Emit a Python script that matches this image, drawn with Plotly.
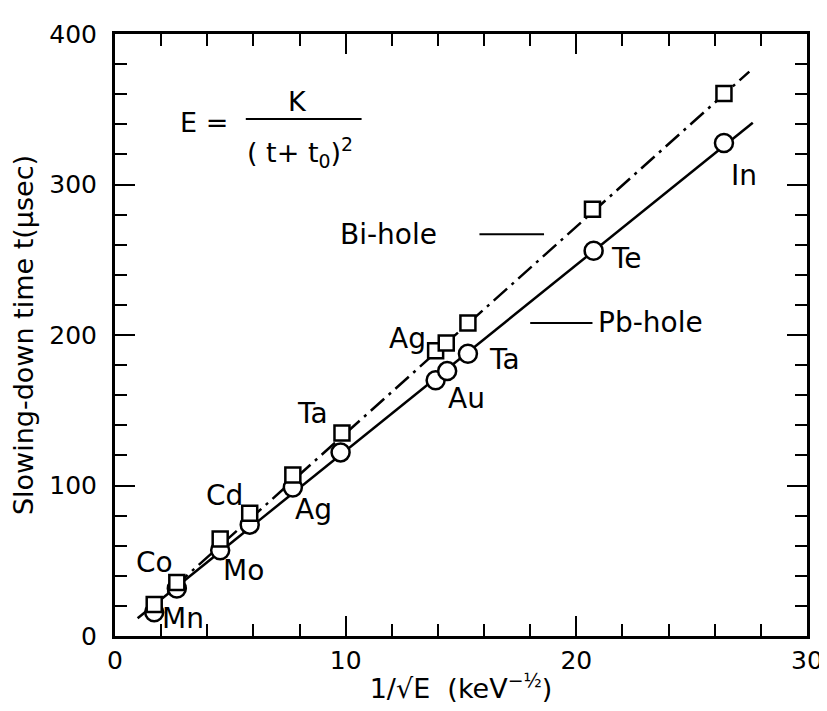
import plotly.graph_objects as go

# Pb-hole (circles)
pb_x = [1.70, 2.68, 4.56, 5.84, 7.71, 9.78, 13.9, 14.4, 15.3, 20.75, 26.4]
pb_y = [15.8, 31.6, 57.0, 74.0, 98.7, 122.0, 170.0, 176.0, 187.5, 256.0, 327.6]
# Bi-hole (squares)
bi_x = [1.70, 2.68, 4.56, 5.84, 7.71, 9.84, 13.9, 14.36, 15.3, 20.7, 26.4]
bi_y = [21.0, 35.5, 64.5, 81.6, 107.0, 134.9, 189.5, 194.7, 208.0, 283.5, 360.5]
# fitted lines
pb_fit_x = [0.98, 27.65]
pb_fit_y = [11.8, 341.0]
bi_fit_x = [1.5, 27.5]
bi_fit_y = [18.0, 375.0]

# element labels
lab_text = ["Co", "Mn", "Mo", "Cd", "Ag", "Ta", "Ag", "Au", "Ta", "Te", "In"]
lab_x = [1.70, 2.94, 5.58, 4.73, 8.61, 8.56, 12.70, 15.25, 16.87, 22.16, 27.27]
lab_y = [48.7, 11.8, 43.4, 93.4, 84.2, 148.0, 198.0, 158.0, 184.0, 250.7, 306.0]

FONT = "DejaVu Sans, Verdana, sans-serif"
BLK = "black"

fig = go.Figure()
fig.add_trace(go.Scatter(x=pb_fit_x, y=pb_fit_y, mode="lines",
                         line=dict(color=BLK, width=2.5), showlegend=False))
fig.add_trace(go.Scatter(x=bi_fit_x, y=bi_fit_y, mode="lines",
                         line=dict(color=BLK, width=2.5, dash="18px,6px,3px,6px"),
                         showlegend=False))
fig.add_trace(go.Scatter(x=pb_x, y=pb_y, mode="markers",
                         marker=dict(symbol="circle", size=18, color="white",
                                     line=dict(color=BLK, width=2.5)),
                         showlegend=False))
fig.add_trace(go.Scatter(x=bi_x, y=bi_y, mode="markers",
                         marker=dict(symbol="square", size=15, color="white",
                                     line=dict(color=BLK, width=2.5)),
                         showlegend=False))

for t, x, y in zip(lab_text, lab_x, lab_y):
    fig.add_annotation(x=x, y=y, text=t, showarrow=False, xref="x", yref="y",
                       font=dict(size=28, color=BLK, family=FONT))

# series labels with leader lines
fig.add_annotation(x=14.05, y=267, text="Bi-hole", showarrow=False, xanchor="right",
                   font=dict(size=28, color=BLK, family=FONT))
fig.add_shape(type="line", x0=15.8, x1=18.6, y0=267, y1=267, line=dict(color=BLK, width=2))
fig.add_annotation(x=20.85, y=208, text="Pb-hole", showarrow=False, xanchor="left",
                   font=dict(size=28, color=BLK, family=FONT))
fig.add_shape(type="line", x0=18.0, x1=20.7, y0=208, y1=208, line=dict(color=BLK, width=2))

# formula
fig.add_annotation(x=3.85, y=341, text="E =", showarrow=False,
                   font=dict(size=27, color=BLK, family=FONT))
fig.add_annotation(x=7.9, y=355, text="K", showarrow=False,
                   font=dict(size=27, color=BLK, family=FONT))
fig.add_shape(type="line", x0=5.67, x1=10.69, y0=343.5, y1=343.5, line=dict(color=BLK, width=2))
fig.add_annotation(x=8.0, y=321, text="( t+ t<sub>0</sub>)<sup>2</sup>", showarrow=False,
                   font=dict(size=27, color=BLK, family=FONT))

axis_common = dict(showline=True, linecolor=BLK, linewidth=3, mirror="allticks",
                   ticks="inside", tickcolor=BLK, tickwidth=2, showgrid=False,
                   zeroline=False, tickfont=dict(size=25, color=BLK, family=FONT))
fig.update_xaxes(range=[0, 30], tickvals=[0, 10, 20, 30], ticklen=20,
                 minor=dict(dtick=2, ticks="inside", ticklen=12, tickcolor=BLK, tickwidth=2, showgrid=False),
                 title=dict(text="1/√E  (keV<sup>−½</sup>)", font=dict(size=27, color=BLK, family=FONT), standoff=6),
                 **axis_common)
fig.update_yaxes(range=[0, 400], tickvals=[0, 100, 200, 300, 400], ticklen=20,
                 minor=dict(dtick=20, ticks="inside", ticklen=12, tickcolor=BLK, tickwidth=2, showgrid=False),
                 title=dict(text="Slowing-down time t(μsec)", font=dict(size=27, color=BLK, family=FONT), standoff=8),
                 ticklabelstandoff=10,
                 **axis_common)

fig.update_layout(width=827, height=711, margin=dict(l=107, r=16, t=20, b=83),
                  plot_bgcolor="white", paper_bgcolor="white", showlegend=False)

fig.write_html("out.html")
